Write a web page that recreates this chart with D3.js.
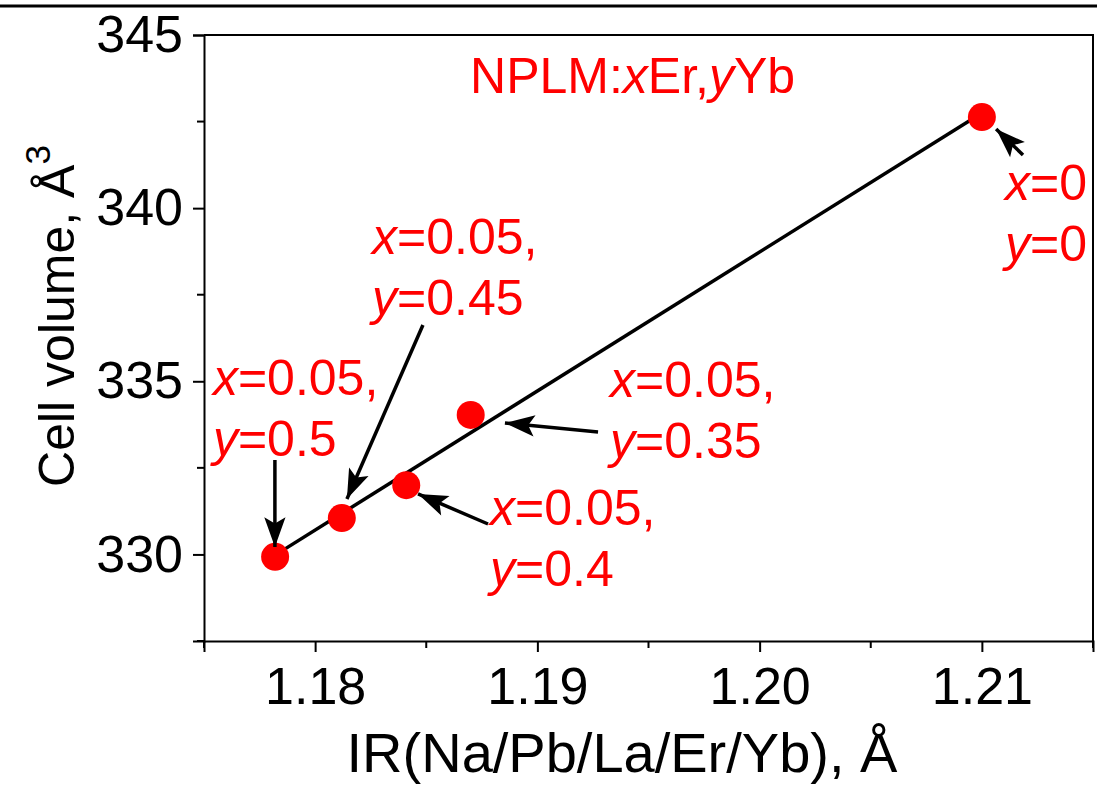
<!DOCTYPE html>
<html>
<head>
<meta charset="utf-8">
<script src="https://cdn.jsdelivr.net/npm/d3@7"></script>
<style>
  body { margin: 0; background: #fff; }
  svg { display: block; font-family: "Liberation Sans", Arial, sans-serif; }
</style>
</head>
<body>
<svg id="chart" width="1097" height="787"></svg>
<script>
// dati
const ir = [1.1782, 1.1812, 1.1841, 1.1870, 1.2100];
const volume = [329.93, 331.05, 332.0, 334.03, 342.63];
const fitIr = [1.1782, 1.2100];
const fitVolume = [329.98, 342.75];
const xTicks = [1.18, 1.19, 1.20, 1.21];
const xMinorTicks = [1.175, 1.185, 1.195, 1.205, 1.215];
const yTicks = [330, 335, 340, 345];
const yMinorTicks = [327.5, 332.5, 337.5, 342.5];

// etichette: righe di testo (x/y in corsivo)
const labelLines = [
  [["x", "=0"], ["y", "=0"]],
  [["x", "=0.05,"], ["y", "=0.35"]],
  [["x", "=0.05,"], ["y", "=0.4"]],
  [["x", "=0.05,"], ["y", "=0.45"]],
  [["x", "=0.05,"], ["y", "=0.5"]]
];
// posizione etichette e frecce in unità dei dati
const labelAt = [[1.21104, 340.24], [1.19327, 334.55], [1.18787, 330.85], [1.18256, 338.68], [1.17540, 334.60]];
const arrows = [
  [1.21185, 341.535, 1.21064, 342.286],
  [1.19273, 333.536, 1.18854, 333.796],
  [1.18778, 330.879, 1.18463, 331.746],
  [1.18485, 336.626, 1.18143, 331.601],
  [1.17819, 332.727, 1.17819, 330.215]
];

const svg = d3.select("#chart");
const margin = { left: 204, right: 4, top: 35, bottom: 146 };
const width = 1097, height = 787;

const x = d3.scaleLinear().domain([1.175, 1.215]).range([margin.left, width - margin.right]);
const y = d3.scaleLinear().domain([327.5, 345]).range([height - margin.bottom, margin.top]);

// linea in alto
svg.append("line")
  .attr("x1", 0).attr("x2", width)
  .attr("y1", 6).attr("y2", 6)
  .attr("stroke", "#000").attr("stroke-width", 3);

// bordo del riquadro
svg.append("path")
  .attr("d", `M${x(1.175)},${y(345)}H${x(1.215)}V${y(327.5)}`)
  .attr("fill", "none").attr("stroke", "#000").attr("stroke-width", 2);

// assi
const tickFont = 52;
const labelFont = 50;
const xAxis = svg.append("g").attr("transform", `translate(0,${y(327.5)})`)
  .call(d3.axisBottom(x).tickValues(xTicks).tickSize(11).tickPadding(15).tickFormat(d3.format(".2f")));
xAxis.append("g").selectAll("line").data(xMinorTicks).join("line")
  .attr("x1", d => x(d)).attr("x2", d => x(d)).attr("y1", 0).attr("y2", 7)
  .attr("stroke", "#000").attr("stroke-width", 2);

const yAxis = svg.append("g").attr("transform", `translate(${x(1.175)},0)`)
  .call(d3.axisLeft(y).tickValues(yTicks).tickSize(11).tickPadding(10).tickFormat(d3.format("d")));
yAxis.append("g").selectAll("line").data(yMinorTicks).join("line")
  .attr("y1", d => y(d)).attr("y2", d => y(d)).attr("x1", 0).attr("x2", -7)
  .attr("stroke", "#000").attr("stroke-width", 2);

[xAxis, yAxis].forEach(g => {
  g.select(".domain").attr("stroke-width", 2);
  g.selectAll(".tick line").attr("stroke-width", 2);
  g.selectAll(".tick text").attr("font-size", tickFont).attr("font-family", "Liberation Sans, Arial, sans-serif").attr("fill", "#000");
});

// titoli assi
svg.append("text")
  .attr("x", 622).attr("y", 772)
  .attr("text-anchor", "middle").attr("font-size", 56)
  .text("IR(Na/Pb/La/Er/Yb), Å");

const yTitle = svg.append("text")
  .attr("transform", `translate(74,316) rotate(-90)`)
  .attr("text-anchor", "middle").attr("font-size", 50);
yTitle.append("tspan").text("Cell volume, Å");
yTitle.append("tspan").attr("font-size", 35).attr("dy", -24).text("3");

// retta di regressione
svg.append("line")
  .attr("x1", x(fitIr[0])).attr("y1", y(fitVolume[0]))
  .attr("x2", x(fitIr[1])).attr("y2", y(fitVolume[1]))
  .attr("stroke", "#000").attr("stroke-width", 3.5);

// punti
svg.append("g").selectAll("circle").data(ir).join("circle")
  .attr("cx", d => x(d)).attr("cy", (d, i) => y(volume[i]))
  .attr("r", 14).attr("fill", "#ff0000");

// frecce
svg.append("defs").append("marker")
  .attr("id", "head").attr("markerUnits", "userSpaceOnUse")
  .attr("markerWidth", 34).attr("markerHeight", 30)
  .attr("refX", 0).attr("refY", 0).attr("viewBox", "-30 -13 32 26")
  .attr("orient", "auto")
  .append("path").attr("d", "M0,0L-28,-10L-22,0L-28,10Z").attr("fill", "#000");

svg.append("g").selectAll("line").data(arrows).join("line")
  .attr("x1", d => x(d[0])).attr("y1", d => y(d[1]))
  .attr("x2", d => x(d[2])).attr("y2", d => y(d[3]))
  .attr("stroke", "#000").attr("stroke-width", 3.5)
  .attr("marker-end", "url(#head)");

// etichette rosse
const title = svg.append("text")
  .attr("x", x(1.18697)).attr("y", y(343.325))
  .attr("font-size", labelFont).attr("fill", "#ff0000");
title.append("tspan").text("NPLM:");
title.append("tspan").attr("font-style", "italic").text("x");
title.append("tspan").text("Er,");
title.append("tspan").attr("font-style", "italic").text("y");
title.append("tspan").text("Yb");

labelLines.forEach((lines, i) => {
  const t = svg.append("text")
    .attr("x", x(labelAt[i][0])).attr("y", y(labelAt[i][1]))
    .attr("font-size", labelFont).attr("fill", "#ff0000");
  lines.forEach((ln, j) => {
    const row = t.append("tspan").attr("x", x(labelAt[i][0])).attr("dy", j === 0 ? 0 : 61);
    row.append("tspan").attr("font-style", "italic").text(ln[0]);
    t.append("tspan").text(ln[1]);
  });
});
</script>
</body>
</html>
